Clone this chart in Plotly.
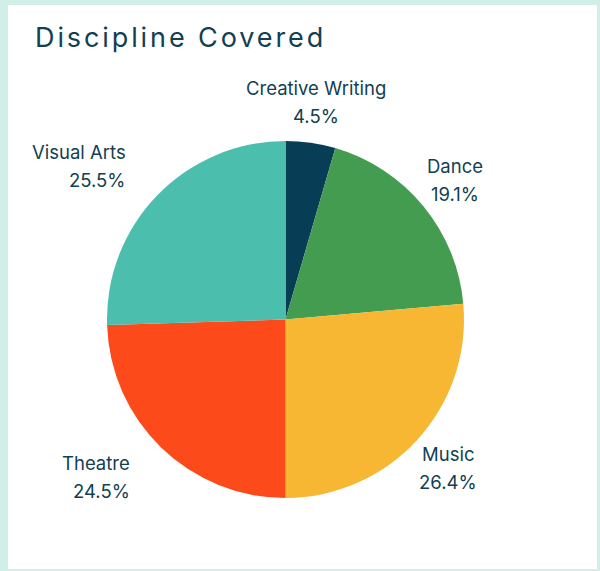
import math
import plotly.graph_objects as go

labels = ["Creative Writing", "Dance", "Music", "Theatre", "Visual Arts"]
values = [4.5, 19.1, 26.4, 24.5, 25.5]
colors = ["#083d56", "#449c50", "#f7b733", "#fc4a1a", "#4bbeae"]
title_text = "Discipline Covered"

W, H = 600, 571
ml, mr, mt, mb = 107, 136, 141, 73
pw = W - ml - mr
ph = H - mt - mb
cx_px = ml + pw / 2
cy_px = mt + ph / 2
label_r = 220
text_color = "#123f52"
font_family = "Inter"


def px_x(p):
    return (p - ml) / pw


def px_y(p):
    return (H - mb - p) / ph


fig = go.Figure(go.Pie(
    labels=labels,
    values=values,
    marker=dict(colors=colors, line=dict(width=0)),
    sort=False,
    direction="clockwise",
    rotation=0,
    textinfo="none",
    hoverinfo="label+percent",
    showlegend=False,
))

annotations = []
total = sum(values)
cum = 0.0
for lab, v in zip(labels, values):
    mid = (cum + v / 2) / total * 2 * math.pi
    cum += v
    x = cx_px + label_r * math.sin(mid)
    y = cy_px - label_r * math.cos(mid)
    xanchor = "right" if mid >= math.pi else "center"
    pct = f"{v / total * 100:.1f}%"
    for txt, shift in ((lab, 14), (pct, -14)):
        annotations.append(dict(
            x=px_x(x), y=px_y(y), xref="paper", yref="paper",
            text=txt, showarrow=False, xanchor=xanchor, yanchor="middle",
            yshift=shift, align="center",
            font=dict(family=font_family, size=18.5, color=text_color),
        ))

fig.update_layout(
    width=W, height=H,
    margin=dict(l=ml, r=mr, t=mt, b=mb),
    paper_bgcolor="#d2eee9",
    plot_bgcolor="white",
    title=dict(
        text=title_text,
        font=dict(family=font_family, size=27, color=text_color),
        x=35 / W, xanchor="left", xref="container",
        y=1 - 38 / H, yanchor="middle", yref="container",
    ),
    annotations=annotations,
    shapes=[dict(
        type="rect", xref="paper", yref="paper", layer="below",
        x0=px_x(8), x1=px_x(597), y0=px_y(569), y1=px_y(5),
        fillcolor="white", line=dict(width=0),
    )],
)

post = (
    "document.body.style.margin='0';"
    "document.documentElement.style.margin='0';"
    "var t=document.querySelector('.gtitle');"
    "if(t){t.style.letterSpacing='2.9px';}"
)

fig.write_html("out.html", post_script=post, config={"displayModeBar": False})
